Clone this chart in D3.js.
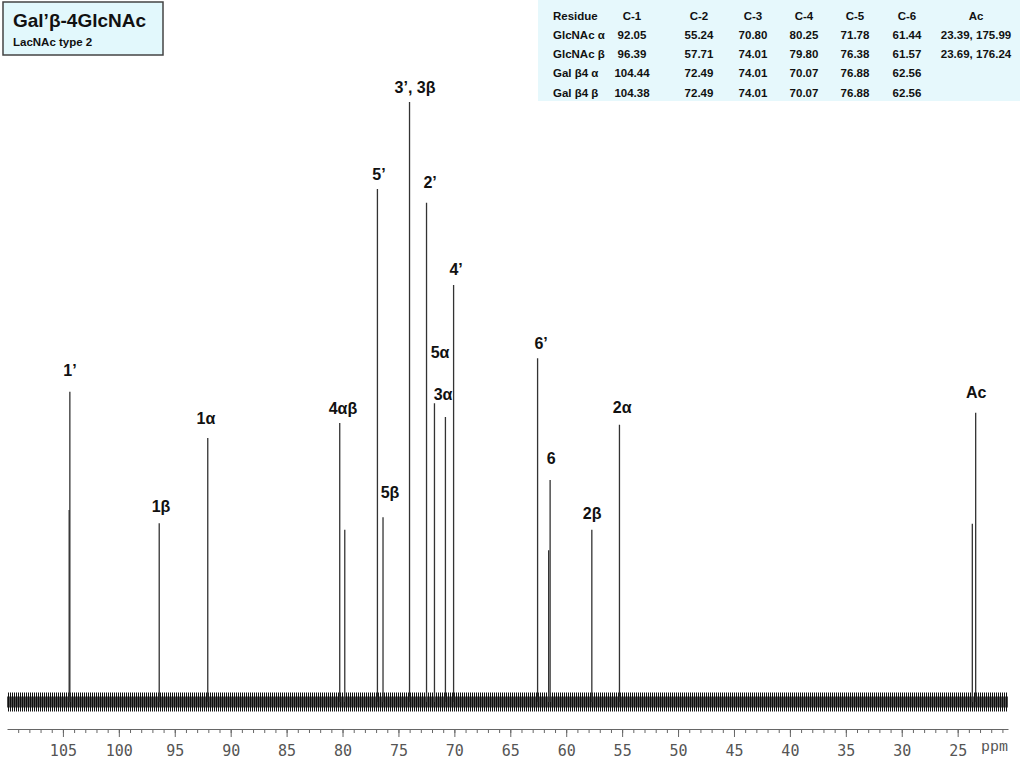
<!DOCTYPE html>
<html>
<head>
<meta charset="utf-8">
<script src="https://cdn.jsdelivr.net/npm/d3@7"></script>
<style>
  body { margin: 0; background: #fff; }
  svg { display: block; }
  .peaklabel { font-family: "Liberation Sans", Arial, sans-serif; font-weight: bold; font-size: 16px; fill: #111; }
  .tbl { font-family: "Liberation Sans", Arial, sans-serif; font-weight: bold; font-size: 11.5px; fill: #111; }
  .axis text { font-family: "DejaVu Sans Mono", monospace; font-size: 15px; fill: #555; }
  .axis path, .axis line { stroke: #666; }
</style>
</head>
<body>
<svg id="chart" width="1024" height="768"></svg>
<script>
const width = 1024, height = 768;

// peak positions (ppm) and heights (relative, tallest = 100)
const peakPpm = [104.44, 104.38, 96.39, 92.05, 80.25, 79.80, 76.88, 76.38, 74.01, 72.49,
                 71.78, 70.80, 70.07, 62.56, 61.57, 61.44, 57.71, 55.24, 23.69, 23.39];
const peakHeight = [32, 51.7, 29.8, 44, 46.5, 28.7, 85.5, 30.8, 100, 83.2,
                    49.8, 47.5, 69.5, 57.3, 25.3, 37, 28.7, 46.2, 29.7, 48.2];

// noise band half heights (same units as peaks)
const noiseOuter = 1.6, noiseInner = 0.9;

// peak labels
const labelText = ["1’", "1β", "1α", "4αβ", "5’", "5β", "3’, 3β", "2’", "5α", "3α", "4’", "6’", "6", "2β", "2α", "Ac"];
const labelPpm = [104.37, 96.23, 92.21, 79.96, 76.74, 75.75, 73.52, 72.17, 71.28, 71.01, 69.85, 62.25, 61.35, 57.68, 55.0, 23.34];
const labelHeight = [54.3, 31.7, 46.3, 48, 87, 34, 101.5, 85.7, 57.3, 50.3, 71.2, 58.8, 39.7, 30.5, 48.2, 50.7];

// table of shifts
const tableHead = ["Residue", "C-1", "C-2", "C-3", "C-4", "C-5", "C-6", "Ac"];
const residues = ["GlcNAc α", "GlcNAc β", "Gal β4 α", "Gal β4 β"];
const shiftsGlcNAcA = ["92.05", "55.24", "70.80", "80.25", "71.78", "61.44", "23.39, 175.99"];
const shiftsGlcNAcB = ["96.39", "57.71", "74.01", "79.80", "76.38", "61.57", "23.69, 176.24"];
const shiftsGalA = ["104.44", "72.49", "74.01", "70.07", "76.88", "62.56", ""];
const shiftsGalB = ["104.38", "72.49", "74.01", "70.07", "76.88", "62.56", ""];

const majorTicks = d3.range(25, 110, 5);
const minorTicks = d3.range(21, 110, 1);

const svg = d3.select("#chart");

// scales: ppm runs right to left
const x = d3.scaleLinear().domain([110, 20.5]).range([7, 1008]);
const y = d3.scaleLinear().domain([0, 100]).range([702, 102]);

// fine stripes so the baseline band reads as grain, not a solid bar
const pat = svg.append("defs").append("pattern")
  .attr("id", "grain").attr("patternUnits", "userSpaceOnUse")
  .attr("width", 2).attr("height", 4);
pat.append("rect").attr("width", 1).attr("height", 4).attr("fill", "#111");

// baseline noise band
svg.append("path")
  .datum([110, 20.5])
  .attr("d", d3.area().x(d => x(d)).y0(y(-noiseOuter)).y1(y(noiseOuter)))
  .attr("fill", "url(#grain)");
svg.append("path")
  .datum([110, 20.5])
  .attr("d", d3.area().x(d => x(d)).y0(y(-noiseInner)).y1(y(noiseInner)))
  .attr("fill", "#111")
  .attr("opacity", 0.75);

// peaks
svg.append("g").selectAll("line")
  .data(peakPpm)
  .join("line")
  .attr("x1", d => x(d)).attr("x2", d => x(d))
  .attr("y1", y(0))
  .attr("y2", (d, i) => y(peakHeight[i]))
  .attr("stroke", "#333")
  .attr("stroke-width", 1.3);

// peak labels
svg.append("g").selectAll("text")
  .data(labelText)
  .join("text")
  .attr("class", "peaklabel")
  .attr("x", (d, i) => x(labelPpm[i]))
  .attr("y", (d, i) => y(labelHeight[i]))
  .attr("text-anchor", "middle")
  .text(d => d);

// axis
svg.append("g").attr("class", "axis")
  .attr("transform", "translate(0,729)")
  .call(d3.axisBottom(x).tickValues(minorTicks).tickSize(4).tickFormat("").tickSizeOuter(0));
svg.append("g").attr("class", "axis")
  .attr("transform", "translate(0,729)")
  .call(d3.axisBottom(x).tickValues(majorTicks).tickSize(8).tickPadding(8).tickSizeOuter(0))
  .call(g => g.select(".domain").remove());

svg.append("clipPath").attr("id", "edge")
  .append("rect").attr("x", 0).attr("y", 0).attr("width", 1008).attr("height", height);
svg.append("text")
  .attr("clip-path", "url(#edge)")
  .attr("x", 981).attr("y", 751)
  .attr("font-family", "Liberation Mono, monospace")
  .attr("font-size", 15)
  .attr("fill", "#555")
  .text("ppm");

// title box
svg.append("rect")
  .attr("x", 3).attr("y", 2).attr("width", 160).attr("height", 53)
  .attr("fill", "#e2f8fc").attr("stroke", "#444").attr("stroke-width", 1.5);
svg.append("text")
  .attr("x", 13).attr("y", 27)
  .attr("font-family", "Liberation Sans, Arial, sans-serif")
  .attr("font-weight", "bold").attr("font-size", 19).attr("fill", "#111")
  .text("Gal’β-4GlcNAc");
svg.append("text")
  .attr("x", 13).attr("y", 46)
  .attr("font-family", "Liberation Sans, Arial, sans-serif")
  .attr("font-weight", "bold").attr("font-size", 11.5).attr("fill", "#111")
  .text("LacNAc type 2");

// table
svg.append("rect")
  .attr("x", 538).attr("y", 0).attr("width", 482).attr("height", 101)
  .attr("fill", "#e6f8fc");

const colX = [632, 699, 753, 804, 855, 907, 976];
const rowY = d3.scaleLinear().domain([0, 4]).range([19.5, 96.5]);
const tableRows = [shiftsGlcNAcA, shiftsGlcNAcB, shiftsGalA, shiftsGalB];
const tbl = svg.append("g");

tbl.append("text").attr("class", "tbl").attr("x", 553).attr("y", rowY(0)).text(tableHead[0]);
tableHead.slice(1).forEach((h, j) => {
  tbl.append("text").attr("class", "tbl").attr("x", colX[j]).attr("y", rowY(0))
    .attr("text-anchor", "middle").text(h);
});
residues.forEach((r, i) => {
  tbl.append("text").attr("class", "tbl").attr("x", 553).attr("y", rowY(i + 1)).text(r);
  tableRows[i].forEach((v, j) => {
    tbl.append("text").attr("class", "tbl").attr("x", colX[j]).attr("y", rowY(i + 1))
      .attr("text-anchor", "middle").text(v);
  });
});
</script>
</body>
</html>
